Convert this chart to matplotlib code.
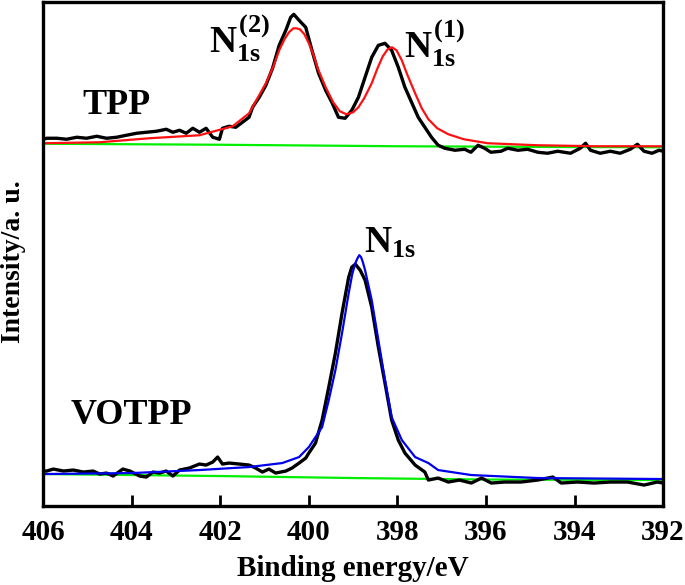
import matplotlib
matplotlib.use("Agg")
import matplotlib.pyplot as plt

plt.rcParams['font.family'] = ['Liberation Serif', 'DejaVu Serif']
plt.rcParams['font.weight'] = 'bold'
plt.rcParams['mathtext.fontset'] = 'custom'
plt.rcParams['mathtext.rm'] = 'Liberation Serif:bold'
plt.rcParams['mathtext.it'] = 'Liberation Serif:bold'
plt.rcParams['mathtext.bf'] = 'Liberation Serif:bold'

# TPP raw spectrum (binding energy eV, intensity a.u.)
tpp_x = [406.0, 405.92, 405.69, 405.47, 405.24, 405.02, 404.79, 404.57, 404.34, 404.12,
         403.89, 403.67, 403.44, 403.22, 403.07, 402.92, 402.77, 402.62, 402.47, 402.32,
         402.17, 402.02, 401.95, 401.8, 401.65, 401.5, 401.35, 401.27, 401.12, 400.97,
         400.82, 400.67, 400.52, 400.41, 400.34, 400.22, 400.07, 399.93, 399.78, 399.62,
         399.47, 399.33, 399.18, 399.03, 398.88, 398.73, 398.58, 398.43, 398.28, 398.13,
         397.98, 397.83, 397.67, 397.53, 397.38, 397.23, 397.08, 396.93, 396.7, 396.48,
         396.34, 396.18, 396.03, 395.89, 395.66, 395.51, 395.28, 395.06, 394.83, 394.61,
         394.38, 394.09, 393.87, 393.75, 393.64, 393.42, 393.19, 392.97, 392.74, 392.58,
         392.43, 392.25, 392.09, 392.0]
tpp_y = [367, 368, 368, 367, 369, 368, 370, 368, 369, 371,
         373, 374, 375, 377, 374, 376, 373, 378, 374, 378,
         369, 367, 378, 380, 379, 384, 389, 399, 409, 421,
         438, 461, 476, 489, 492, 486, 479, 456, 433, 416,
         403, 389, 388, 396, 409, 429, 449, 461, 463, 456,
         439, 419, 403, 389, 379, 369, 361, 358, 356, 357,
         354, 361, 358, 354, 355, 358, 356, 357, 354, 353,
         355, 353, 358, 363, 356, 353, 355, 353, 357, 362,
         355, 353, 356, 355]

# TPP fitted envelope
tpp_fit_x = [406.0, 404.72, 403.6, 402.47, 401.72, 401.35, 400.97, 400.8, 400.67, 400.55,
             400.45, 400.35, 400.28, 400.2, 400.1, 400.0, 399.9, 399.8, 399.62, 399.45,
             399.3, 399.15, 399.0, 398.88, 398.75, 398.58, 398.45, 398.33, 398.22, 398.12,
             398.02, 397.9, 397.78, 397.6, 397.45, 397.3, 397.1, 396.85, 396.5, 395.96,
             394.83, 393.5, 392.0]
tpp_fit_y = [363, 364, 368, 371, 380, 393, 423, 440, 456, 467,
             474, 478, 478, 477, 472, 463, 452, 438, 419, 404,
             395, 392, 394, 399, 408, 423, 438, 450, 457, 459,
             456, 446, 432, 413, 398, 387, 378, 372, 367, 363,
             361, 360, 360]

# TPP background
tpp_bg_x = [406, 402, 398, 394, 392]
tpp_bg_y = [362.5, 361.5, 360, 359.2, 359]

# VOTPP raw spectrum
vo_x = [406.0, 405.92, 405.77, 405.54, 405.32, 405.09, 404.87, 404.72, 404.57, 404.42,
        404.2, 404.04, 403.82, 403.67, 403.52, 403.37, 403.22, 403.07, 402.92, 402.7,
        402.47, 402.32, 402.17, 402.06, 401.95, 401.8, 401.57, 401.35, 401.2, 401.05,
        400.9, 400.75, 400.52, 400.38, 400.22, 400.07, 400.0, 399.85, 399.7, 399.55,
        399.4, 399.25, 399.1, 399.03, 398.95, 398.84, 398.73, 398.58, 398.43, 398.28,
        398.13, 397.98, 397.83, 397.6, 397.38, 397.3, 397.08, 396.85, 396.6, 396.33,
        396.1, 395.88, 395.58, 395.21, 394.83, 394.49, 394.3, 393.93, 393.56, 393.19,
        392.8, 392.43, 392.13, 392.0]
vo_y = [35, 35, 37, 35, 36, 34, 35, 32, 33, 30,
        37, 35, 30, 29, 34, 33, 35, 30, 36, 38,
        42, 41, 44, 49, 42, 43, 42, 41, 38, 34,
        37, 33, 35, 38, 43, 48, 53, 63, 86, 119,
        153, 193, 229, 239, 242, 236, 226, 199, 159, 123,
        86, 66, 53, 41, 34, 26, 28, 24, 26, 23,
        28, 23, 24, 24, 26, 29, 23, 24, 23, 24,
        24, 21, 24, 23]

# VOTPP fitted peak
vo_fit_x = [406.0, 403.98, 402.47, 401.35, 400.6, 400.22, 400.0, 399.7, 399.55, 399.4,
            399.25, 399.1, 399.02, 398.95, 398.9, 398.86, 398.82, 398.78, 398.73, 398.58,
            398.43, 398.28, 398.13, 397.9, 397.6, 397.3, 397.08, 396.33, 394.83, 392.0]
vo_fit_y = [32, 33, 36, 39, 43, 49, 59, 79, 106, 136,
            173, 213, 232, 243, 248, 251, 249, 244, 236, 206,
            166, 126, 89, 66, 49, 43, 36, 31, 28, 27]

# VOTPP background
vo_bg_x = [406, 402, 399, 396, 392]
vo_bg_y = [32, 30, 28, 26.5, 26]

fig = plt.figure(figsize=(6.85, 5.85), dpi=100)
ax = fig.add_axes([0.063, 0.135, 0.905, 0.861])

ax.plot(tpp_bg_x, tpp_bg_y, color='#00ee00', lw=1.6)
ax.plot(tpp_x, tpp_y, color='black', lw=2.4)
ax.plot(tpp_fit_x, tpp_fit_y, color='#ff1010', lw=1.6)

ax.plot(vo_bg_x, vo_bg_y, color='#00ee00', lw=1.6)
ax.plot(vo_x, vo_y, color='black', lw=2.4)
ax.plot(vo_fit_x, vo_fit_y, color='#0000ee', lw=1.6)

ax.set_xlim(406, 392)
ax.set_ylim(0, 504)
ax.set_xticks([406, 404, 402, 400, 398, 396, 394, 392])
ax.set_yticks([])
ax.tick_params(axis='x', direction='in', length=8, width=2, labelsize=21, pad=9)
for lab in ax.get_xticklabels():
    lab.set_fontweight('bold')
for sp in ax.spines.values():
    sp.set_linewidth(2.4)

ax.set_xlabel("Binding energy/eV", fontsize=21, fontweight='bold')
ax.set_ylabel("Intensity/a. u.", fontsize=20, fontweight='bold')
ax.xaxis.set_label_coords(0.5, -0.098)
ax.yaxis.set_label_coords(-0.028, 0.486)

ax.text(404.34, 401, "TPP", fontsize=26, fontweight='bold', ha='center', va='center')
ax.text(404.0, 91, "VOTPP", fontsize=26, fontweight='bold', ha='center', va='center')
ax.text(401.57, 468, r"$N_{1s}^{(2)}$", fontsize=27, ha='center', va='center')
ax.text(397.17, 463, r"$N_{1s}^{(1)}$", fontsize=27, ha='center', va='center')
ax.text(398.18, 263, r"$N_{1s}$", fontsize=27, ha='center', va='center')

fig.savefig("out.png", dpi=100)
